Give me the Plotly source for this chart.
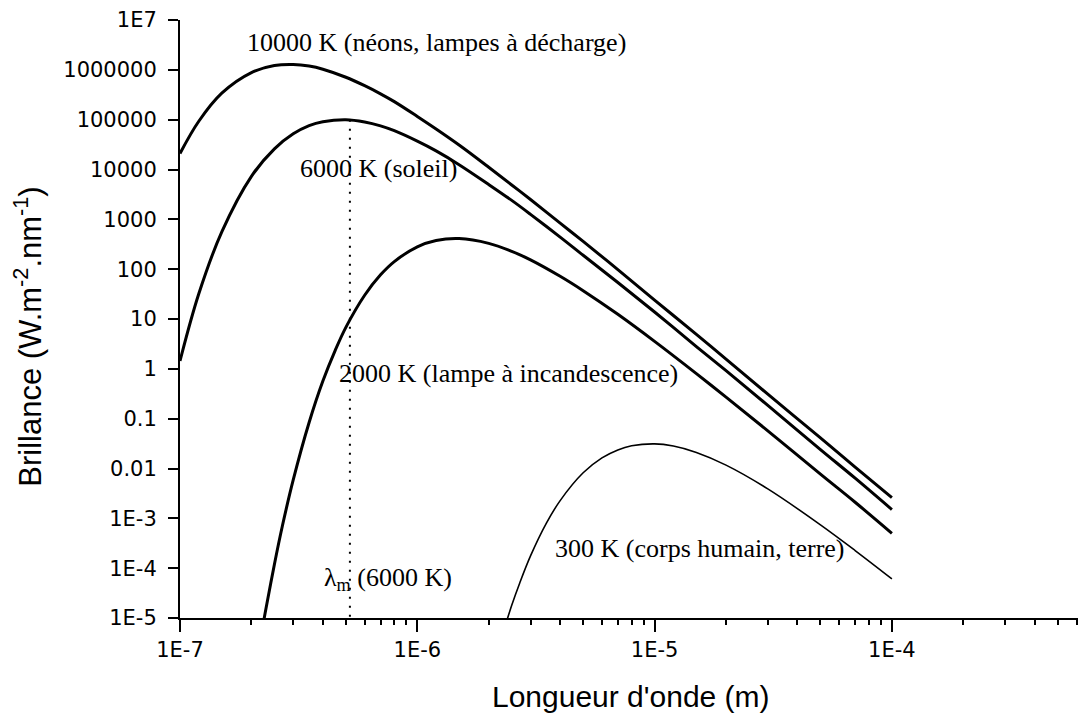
import math
import plotly.graph_objects as go

# ---------------- data ----------------
wavelength_m = [1.0e-7, 1.2e-7, 1.5e-7, 2.0e-7, 2.5e-7, 3.0e-7, 3.5e-7, 4.0e-7,
                5.0e-7, 6.0e-7, 7.0e-7, 8.0e-7, 1.0e-6, 1.2e-6, 1.5e-6, 2.0e-6,
                2.5e-6, 3.0e-6, 4.0e-6, 5.0e-6, 7.0e-6, 1.0e-5, 1.5e-5, 2.0e-5,
                3.0e-5, 5.0e-5, 7.0e-5, 1.0e-4]
brillance_10000K = [2.1e4, 9.3e4, 3.4e5, 8.8e5, 1.22e6, 1.28e6, 1.19e6, 1.03e6,
                    7.1e5, 4.8e5, 3.3e5, 2.3e5, 1.16e5, 6.5e4, 3.1e4, 1.11e4,
                    4.9e3, 2.5e3, 8.4e2, 3.6e2, 98, 24, 4.9, 1.57,
                    0.31, 0.041, 0.0107, 0.0026]
brillance_6000K = [1.44, 32, 5.6e2, 7.3e3, 2.6e4, 5.2e4, 7.6e4, 9.1e4,
                   1.0e5, 9.0e4, 7.5e4, 6.0e4, 3.7e4, 2.36e4, 1.25e4, 5.0e3,
                   2.4e3, 1.26e3, 4.4e2, 1.9e2, 54, 13.8, 2.8, 0.92,
                   0.185, 0.024, 0.0064, 0.0015]

wavelength_2000K_m = [2.2e-7, 2.3e-7, 2.5e-7, 2.7e-7, 3.0e-7, 3.5e-7, 4.0e-7, 4.5e-7,
                      5.0e-7, 6.0e-7, 7.0e-7, 8.0e-7, 1.0e-6, 1.2e-6, 1.5e-6, 2.0e-6,
                      2.5e-6, 3.0e-6, 4.0e-6, 5.0e-6, 7.0e-6, 1.0e-5, 1.5e-5, 2.0e-5,
                      3.0e-5, 5.0e-5, 7.0e-5, 1.0e-4]
brillance_2000K = [4.6e-6, 1.5e-5, 1.2e-4, 7.0e-4, 5.9e-3, 0.084, 0.57, 2.3,
                   6.8, 30, 77, 142, 281, 376, 411, 330,
                   228, 154, 72, 37, 12.4, 3.55, 0.80, 0.27,
                   0.057, 0.0077, 0.0021, 0.0005]

wavelength_300K_m = [2.3e-6, 2.5e-6, 2.7e-6, 3.0e-6, 3.5e-6, 4.0e-6, 5.0e-6, 6.0e-6,
                     7.0e-6, 8.0e-6, 1.0e-5, 1.2e-5, 1.5e-5, 2.0e-5, 3.0e-5, 5.0e-5,
                     7.0e-5, 1.0e-4]
brillance_300K = [5.1e-6, 1.8e-5, 5.0e-5, 1.76e-4, 8.0e-4, 2.27e-3, 8.2e-3, 0.0163,
                  0.0236, 0.0285, 0.0312, 0.0282, 0.021, 0.0117, 0.0039, 7.4e-4,
                  2.26e-4, 6.1e-5]

lambda_max_6000K_m = [5.2e-7, 5.2e-7]
lambda_max_line_y = [1.0e5, 1.0e-5]

x_tick_vals = [1e-7, 1e-6, 1e-5, 1e-4]
x_tick_text = ["1E-7", "1E-6", "1E-5", "1E-4"]
y_tick_vals = [1e7, 1e6, 1e5, 1e4, 1e3, 1e2, 1e1, 1e0, 1e-1, 1e-2, 1e-3, 1e-4, 1e-5]
y_tick_text = ["1E7", "1000000", "100000", "10000", "1000", "100", "10", "1",
               "0.1", "0.01", "1E-3", "1E-4", "1E-5"]

labels = ["10000 K (néons, lampes à décharge)", "6000 K (soleil)",
          "2000 K (lampe à incandescence)", "300 K (corps humain, terre)",
          "λ<sub>m</sub> (6000 K)"]

# minor tick positions (2..9 in every decade)
y_minor_vals = [m * 10.0 ** k for k in range(-5, 7) for m in range(2, 10)]
x_minor_vals = [m * 10.0 ** k for k in range(-7, -3) for m in range(2, 10)]

# ---------------- figure ----------------
fig = go.Figure()
line_kw = dict(mode="lines", line_shape="spline", showlegend=False, hoverinfo="skip")
fig.add_trace(go.Scatter(x=wavelength_m, y=brillance_10000K, line=dict(color="black", width=3), **line_kw))
fig.add_trace(go.Scatter(x=wavelength_m, y=brillance_6000K, line=dict(color="black", width=3), **line_kw))
fig.add_trace(go.Scatter(x=wavelength_2000K_m, y=brillance_2000K, line=dict(color="black", width=3), **line_kw))
fig.add_trace(go.Scatter(x=wavelength_300K_m, y=brillance_300K, line=dict(color="black", width=1.6), **line_kw))
fig.add_trace(go.Scatter(x=lambda_max_6000K_m, y=lambda_max_line_y, mode="lines", showlegend=False,
                         hoverinfo="skip", line=dict(color="black", width=2, dash="2px,7px")))
# y-axis minor tick marks (drawn as short horizontal dashes just left of the axis line)
fig.add_trace(go.Scatter(x=[10 ** -7.012] * len(y_minor_vals), y=y_minor_vals, mode="markers",
                         showlegend=False, hoverinfo="skip", cliponaxis=False,
                         marker=dict(symbol="line-ew", size=7, color="black",
                                     line=dict(color="black", width=1.5))))

SERIF = "Liberation Serif"
SANS = "Liberation Sans"
ann_font = dict(family=SERIF, size=26, color="black")
annotations = [
    dict(x=math.log10(1.88e-7), y=math.log10(3.6e6), text=labels[0]),
    dict(x=math.log10(3.14e-7), y=math.log10(1.07e4), text=labels[1]),
    dict(x=math.log10(4.59e-7), y=math.log10(0.82), text=labels[2]),
    dict(x=math.log10(3.73e-6), y=math.log10(2.5e-4), text=labels[3]),
    dict(x=math.log10(3.96e-7), y=math.log10(6.2e-5), text=labels[4]),
]
for a in annotations:
    a.update(xref="x", yref="y", xanchor="left", yanchor="middle", showarrow=False, font=ann_font)

annotations.append(dict(xref="paper", yref="paper", x=0.4978, y=-0.132, xanchor="center", yanchor="middle",
                        showarrow=False, text="Longueur d'onde (m)",
                        font=dict(family=SANS, size=30, color="black")))
annotations.append(dict(xref="paper", yref="paper", x=-0.168, y=0.47, xanchor="center", yanchor="middle",
                        showarrow=False, textangle=-90,
                        text="Brillance (W.m<sup>-2</sup>.nm<sup>-1</sup>)",
                        font=dict(family=SANS, size=31, color="black")))

tick_font = dict(family="DejaVu Sans", size=21, color="black")
fig.update_layout(
    width=1078, height=708,
    margin=dict(l=172, r=0, t=12, b=98),
    paper_bgcolor="white", plot_bgcolor="white",
    annotations=annotations,
    xaxis=dict(type="log", range=[-7, -3.182], showline=True, linecolor="black", linewidth=2,
               showgrid=False, zeroline=False, ticks="outside", ticklen=12, tickwidth=2,
               tickcolor="black", tickvals=x_tick_vals, ticktext=x_tick_text, tickfont=tick_font,
               minor=dict(ticks="outside", ticklen=5, tickwidth=1.5, tickcolor="black",
                          tickmode="array", tickvals=x_minor_vals, showgrid=False)),
    yaxis=dict(type="log", range=[-5, 7], showline=True, linecolor="black", linewidth=2,
               showgrid=False, zeroline=False, ticks="outside", ticklen=10, tickwidth=2,
               tickcolor="black", tickvals=y_tick_vals, ticktext=y_tick_text, tickfont=tick_font,
               ticklabelstandoff=7),
)

fig.write_html("out.html")
